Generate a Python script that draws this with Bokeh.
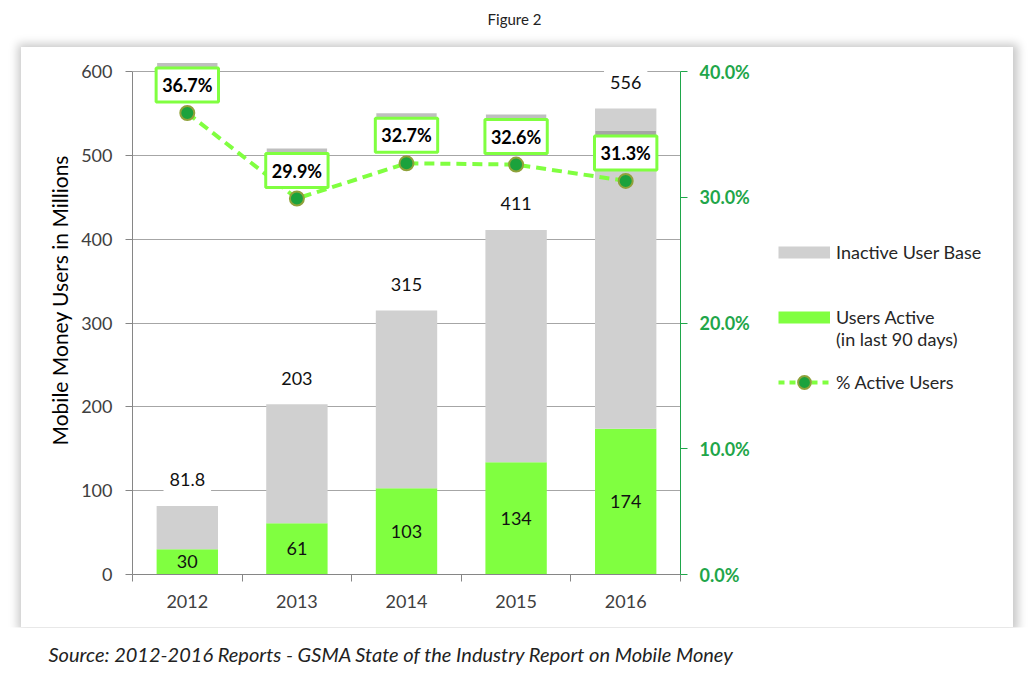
from bokeh.plotting import figure
from bokeh.layouts import column, row
from bokeh.models import (Range1d, LinearAxis, FixedTicker, Label, Legend, LegendItem,
                          PrintfTickFormatter, ColumnDataSource, Title)
from bokeh.embed import file_html
from bokeh.resources import INLINE

# ---- data ----
years = ["2012", "2013", "2014", "2015", "2016"]
total_users = [81.8, 203, 315, 411, 556]        # millions (total user base)
active_users = [30, 61, 103, 134, 174]          # millions, active in last 90 days
pct_active = [36.7, 29.9, 32.7, 32.6, 31.3]     # % active users
left_ticks = [0, 100, 200, 300, 400, 500, 600]
right_ticks = [0, 10, 20, 30, 40]

FONT = "Lato"
GREEN_BAR = "#80FF40"
GRAY_BAR = "#D0D0D0"
AXIS_GREEN = "#1FA64A"
DOT_GREEN = "#1BA23C"

FRAME_H = 520
AX_H = 503  # pixels spanned by the 0..600 axis
y_end = left_ticks[-1] * FRAME_H / AX_H
pct_end = right_ticks[-1] * FRAME_H / AX_H
BOX_W, BOX_H = 992, 580
MAIN_W = 111 + 548 + 90

xs = list(range(len(years)))
src = ColumnDataSource(dict(x=xs, active=active_users, total=total_users, pct=pct_active))
nan = float("nan")

# ---------------- main chart ----------------
p = figure(frame_width=548, frame_height=FRAME_H,
           min_border_left=111, min_border_right=90, min_border_top=7, min_border_bottom=53,
           x_range=Range1d(-0.5, len(years) - 0.5), y_range=Range1d(0, y_end),
           output_backend="svg", toolbar_location=None, frame_align=False,
           background_fill_color="white", border_fill_color="white", outline_line_color=None)
p.extra_y_ranges = {"pct": Range1d(0, pct_end)}

r_active = p.vbar(x="x", bottom=0, top="active", width=0.56, source=src,
                  fill_color=GREEN_BAR, line_color=None)
r_inactive = p.vbar(x="x", bottom="active", top="total", width=0.56, source=src,
                    fill_color=GRAY_BAR, line_color=None)
r_line = p.line(x="x", y="pct", source=src, y_range_name="pct",
                line_color=GREEN_BAR, line_width=4, line_dash="10 6")
r_dots = p.scatter(x="x", y="pct", source=src, y_range_name="pct", size=14,
                   fill_color=DOT_GREEN, line_color="#8FA23A", line_width=2)

# axes
p.yaxis.ticker = FixedTicker(ticks=left_ticks)
p.yaxis.bounds = (left_ticks[0], left_ticks[-1])
p.yaxis.major_tick_out = 7
p.yaxis.major_tick_in = 0
p.yaxis.minor_tick_line_color = None
p.yaxis.axis_line_color = "#868686"
p.yaxis.major_tick_line_color = "#868686"
p.yaxis.major_label_text_font = FONT
p.yaxis.major_label_text_font_size = "18px"
p.yaxis.major_label_text_color = "#404040"
p.yaxis.major_label_standoff = 13

p.xaxis.ticker = FixedTicker(ticks=xs, minor_ticks=[x - 0.5 for x in xs] + [xs[-1] + 0.5])
p.xaxis.major_label_overrides = {x: y for x, y in zip(xs, years)}
p.xaxis.major_tick_line_color = None
p.xaxis.minor_tick_out = 7
p.xaxis.minor_tick_in = 0
p.xaxis.minor_tick_line_color = "#868686"
p.xaxis.axis_line_color = "#868686"
p.xaxis.major_label_text_font = FONT
p.xaxis.major_label_text_font_size = "18px"
p.xaxis.major_label_text_color = "#404040"
p.xaxis.major_label_standoff = 13

ax_r = LinearAxis(y_range_name="pct", ticker=FixedTicker(ticks=right_ticks),
                  formatter=PrintfTickFormatter(format="%.1f%%"),
                  bounds=(right_ticks[0], right_ticks[-1]))
ax_r.major_tick_out = 7
ax_r.major_tick_in = 0
ax_r.minor_tick_line_color = None
ax_r.axis_line_color = AXIS_GREEN
ax_r.major_tick_line_color = AXIS_GREEN
ax_r.major_label_text_font = FONT
ax_r.major_label_text_font_size = "18px"
ax_r.major_label_text_font_style = "bold"
ax_r.major_label_text_color = AXIS_GREEN
ax_r.major_label_standoff = 12
p.add_layout(ax_r, "right")

p.xgrid.grid_line_color = None
p.ygrid.ticker = FixedTicker(ticks=left_ticks)
p.ygrid.grid_line_color = "#A6A6A6"

# value labels
for x, t in zip(xs, total_users):
    p.add_layout(Label(x=x, y=t, text=f"{t:g}", y_offset=26, text_align="center",
                       text_baseline="middle", text_font=FONT, text_font_size="18px",
                       text_color="#111111", background_fill_color="white", padding=6))
for x, a in zip(xs, active_users):
    p.add_layout(Label(x=x, y=a / 2, text=f"{a:g}", text_align="center",
                       text_baseline="middle", text_font=FONT, text_font_size="18px",
                       text_color="#111111"))
for x, v in zip(xs, pct_active):
    txt = f"{v:.1f}%"
    # shadow band above the boxed label (its text is hidden behind the white box)
    p.add_layout(Label(x=x, y=v, y_range_name="pct", text=txt, y_offset=34,
                       text_align="center", text_baseline="middle", text_font=FONT,
                       text_font_size="18px", text_font_style="bold", text_color="#707070",
                       background_fill_color="#707070", background_fill_alpha=0.45, padding=5))
    p.add_layout(Label(x=x, y=v, y_range_name="pct", text=txt, y_offset=28,
                       text_align="center", text_baseline="middle", text_font=FONT,
                       text_font_size="18px", text_font_style="bold", text_color="black",
                       background_fill_color="white", border_line_color=GREEN_BAR,
                       border_line_width=3, padding=6))

# y axis title
p.add_layout(Title(text="Mobile Money Users in Millions", align="left", offset=129,
                   text_font=FONT, text_font_size="21px", text_font_style="normal",
                   text_color="black", standoff=14), "left")

# ---------------- legend panel (right part of the box) ----------------
LEG_W = BOX_W - MAIN_W
lf = figure(width=LEG_W, height=BOX_H, x_range=Range1d(0, LEG_W), y_range=Range1d(0, BOX_H),
            x_axis_type=None, y_axis_type=None, min_border=0, frame_align=False,
            output_backend="svg", toolbar_location=None, outline_line_color=None,
            background_fill_color="white", border_fill_color="white")
lg_inactive = lf.line(x=[nan, nan], y=[nan, nan], line_color=GRAY_BAR, line_width=12)
lg_active = lf.line(x=[nan, nan], y=[nan, nan], line_color=GREEN_BAR, line_width=12)
lg_line = lf.line(x=[nan, nan], y=[nan, nan], line_color=GREEN_BAR, line_width=4, line_dash="6 5")
lg_dot = lf.scatter(x=[nan], y=[nan], fill_color=DOT_GREEN, line_color="#8FA23A", line_width=2)
legend = Legend(items=[LegendItem(label="Inactive User Base", renderers=[lg_inactive]),
                       LegendItem(label="\nUsers Active\n(in last 90 days)", renderers=[lg_active]),
                       LegendItem(label="% Active Users", renderers=[lg_line, lg_dot])],
                location=(8, 229), glyph_width=52, glyph_height=32, label_height=32,
                label_standoff=6, spacing=16, padding=0, margin=0,
                border_line_color=None, background_fill_alpha=0, label_text_font=FONT,
                label_text_font_size="18px", label_text_color="#262626")
lf.add_layout(legend)

box = row(p, lf, spacing=0, margin=(11, 0, 0, 21),
          styles={"box-shadow": "1px 1px 9px 4px rgba(0,0,0,0.22)"})

# ---------------- caption strips ----------------
def strip(h, txt, x, y, align, size, style):
    f = figure(width=1030, height=h, x_range=Range1d(0, 1030), y_range=Range1d(0, h),
               x_axis_type=None, y_axis_type=None, min_border=0, frame_align=False,
               output_backend="svg", toolbar_location=None, outline_line_color=None,
               background_fill_color="white", border_fill_color="white")
    f.add_layout(Label(x=x, y=y, text=txt, text_align=align, text_baseline="middle",
                       text_font=FONT, text_font_size=size, text_font_style=style,
                       text_color="#222222"))
    return f

top = strip(36, "Figure 2", 514, 18, "center", "15px", "normal")
bottom = strip(43, "Source: 2012-2016 Reports - GSMA State of the Industry Report on Mobile Money",
               48, 17, "left", "20px", "italic")

layout = column(top, box, bottom, spacing=0)
open("out.html", "w").write(file_html(layout, INLINE))
